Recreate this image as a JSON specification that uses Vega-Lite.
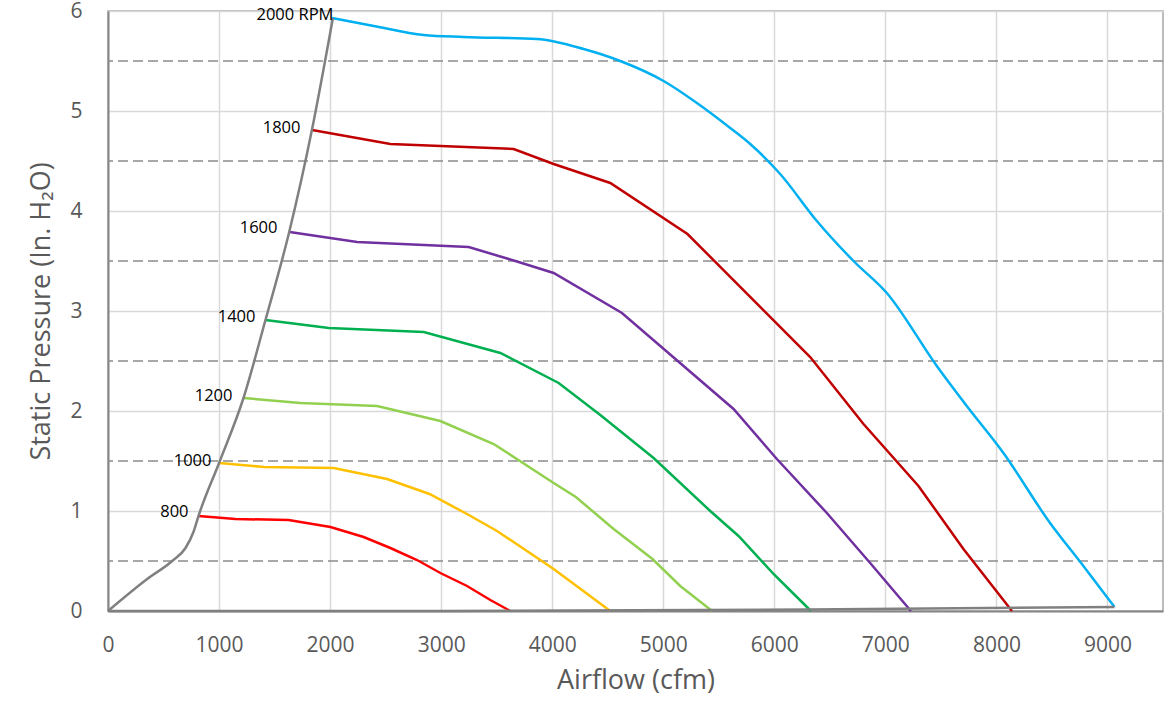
{
  "$schema": "https://vega.github.io/schema/vega-lite/v6.json",
  "width": 1055,
  "height": 600,
  "autosize": {"type": "none"},
  "padding": {"left": 108, "top": 11, "right": 4, "bottom": 93},
  "background": "white",
  "config": {
    "view": {"stroke": "#A6A6A6", "strokeWidth": 1.5},
    "axis": {
      "labelFont": "Open Sans", "labelFontSize": 21, "labelColor": "#595959",
      "titleFont": "Open Sans", "titleFontSize": 27, "titleColor": "#595959", "titleFontWeight": "normal",
      "ticks": false, "gridColor": "#D9D9D9", "gridWidth": 1.5,
      "domainColor": "#868686", "domainWidth": 2, "labelFlush": false, "labelOverlap": false
    },
    "axisX": {"labelPadding": 23, "titlePadding": 12},
    "axisY": {"labelPadding": 26, "titlePadding": 14}
  },
  "datasets": {
    "dash": [{"y": 0.5}, {"y": 1.5}, {"y": 2.5}, {"y": 3.5}, {"y": 4.5}, {"y": 5.5}],
    "curves": [
      {"rpm": "800", "x": 815, "y": 0.95}, {"rpm": "800", "x": 1148, "y": 0.92}, {"rpm": "800", "x": 1627, "y": 0.91},
      {"rpm": "800", "x": 2003, "y": 0.84}, {"rpm": "800", "x": 2302, "y": 0.74}, {"rpm": "800", "x": 2543, "y": 0.63},
      {"rpm": "800", "x": 2783, "y": 0.51}, {"rpm": "800", "x": 2993, "y": 0.38}, {"rpm": "800", "x": 3233, "y": 0.25},
      {"rpm": "800", "x": 3443, "y": 0.11}, {"rpm": "800", "x": 3623, "y": 0.0},
      {"rpm": "1000", "x": 1000, "y": 1.48}, {"rpm": "1000", "x": 1403, "y": 1.44}, {"rpm": "1000", "x": 2032, "y": 1.43},
      {"rpm": "1000", "x": 2513, "y": 1.32}, {"rpm": "1000", "x": 2895, "y": 1.17}, {"rpm": "1000", "x": 3233, "y": 0.97},
      {"rpm": "1000", "x": 3503, "y": 0.8}, {"rpm": "1000", "x": 4013, "y": 0.42}, {"rpm": "1000", "x": 4523, "y": 0.0},
      {"rpm": "1200", "x": 1220, "y": 2.13}, {"rpm": "1200", "x": 1733, "y": 2.08}, {"rpm": "1200", "x": 2423, "y": 2.05},
      {"rpm": "1200", "x": 2993, "y": 1.9}, {"rpm": "1200", "x": 3473, "y": 1.67}, {"rpm": "1200", "x": 4013, "y": 1.28},
      {"rpm": "1200", "x": 4213, "y": 1.14}, {"rpm": "1200", "x": 4553, "y": 0.82}, {"rpm": "1200", "x": 4903, "y": 0.52},
      {"rpm": "1200", "x": 5153, "y": 0.25}, {"rpm": "1200", "x": 5440, "y": 0.0},
      {"rpm": "1400", "x": 1418, "y": 2.91}, {"rpm": "1400", "x": 1988, "y": 2.83}, {"rpm": "1400", "x": 2843, "y": 2.79},
      {"rpm": "1400", "x": 3533, "y": 2.58}, {"rpm": "1400", "x": 4058, "y": 2.28}, {"rpm": "1400", "x": 4433, "y": 1.96},
      {"rpm": "1400", "x": 4913, "y": 1.53}, {"rpm": "1400", "x": 5423, "y": 1.0}, {"rpm": "1400", "x": 5678, "y": 0.75},
      {"rpm": "1400", "x": 5993, "y": 0.37}, {"rpm": "1400", "x": 6330, "y": 0.0},
      {"rpm": "1600", "x": 1636, "y": 3.79}, {"rpm": "1600", "x": 2243, "y": 3.69}, {"rpm": "1600", "x": 3248, "y": 3.64},
      {"rpm": "1600", "x": 3668, "y": 3.5}, {"rpm": "1600", "x": 4013, "y": 3.38}, {"rpm": "1600", "x": 4628, "y": 2.98},
      {"rpm": "1600", "x": 5633, "y": 2.02}, {"rpm": "1600", "x": 6023, "y": 1.52}, {"rpm": "1600", "x": 6473, "y": 0.98},
      {"rpm": "1600", "x": 6863, "y": 0.48}, {"rpm": "1600", "x": 7230, "y": 0.0},
      {"rpm": "1800", "x": 1838, "y": 4.81}, {"rpm": "1800", "x": 2543, "y": 4.67}, {"rpm": "1800", "x": 3653, "y": 4.62},
      {"rpm": "1800", "x": 4013, "y": 4.47}, {"rpm": "1800", "x": 4523, "y": 4.28}, {"rpm": "1800", "x": 5218, "y": 3.77},
      {"rpm": "1800", "x": 6323, "y": 2.54}, {"rpm": "1800", "x": 6803, "y": 1.87}, {"rpm": "1800", "x": 7298, "y": 1.25},
      {"rpm": "1800", "x": 7703, "y": 0.62}, {"rpm": "1800", "x": 8140, "y": 0.0},
      {"rpm": "2000", "x": 2018, "y": 5.93}, {"rpm": "2000", "x": 2393, "y": 5.85}, {"rpm": "2000", "x": 2843, "y": 5.76},
      {"rpm": "2000", "x": 3203, "y": 5.74}, {"rpm": "2000", "x": 3863, "y": 5.72}, {"rpm": "2000", "x": 4283, "y": 5.62},
      {"rpm": "2000", "x": 4613, "y": 5.5}, {"rpm": "2000", "x": 5003, "y": 5.3}, {"rpm": "2000", "x": 5303, "y": 5.08},
      {"rpm": "2000", "x": 5603, "y": 4.83}, {"rpm": "2000", "x": 5783, "y": 4.67}, {"rpm": "2000", "x": 6053, "y": 4.37},
      {"rpm": "2000", "x": 6383, "y": 3.9}, {"rpm": "2000", "x": 6713, "y": 3.5}, {"rpm": "2000", "x": 7013, "y": 3.18},
      {"rpm": "2000", "x": 7463, "y": 2.45}, {"rpm": "2000", "x": 7733, "y": 2.05},
      {"rpm": "2000", "x": 8063, "y": 1.58}, {"rpm": "2000", "x": 8483, "y": 0.88}, {"rpm": "2000", "x": 8783, "y": 0.45},
      {"rpm": "2000", "x": 9063, "y": 0.04}
    ],
    "gray": [
      {"line": "envelope", "x": 0, "y": 0}, {"line": "envelope", "x": 353, "y": 0.32}, {"line": "envelope", "x": 578, "y": 0.5},
      {"line": "envelope", "x": 698, "y": 0.63}, {"line": "envelope", "x": 773, "y": 0.8}, {"line": "envelope", "x": 815, "y": 0.95},
      {"line": "envelope", "x": 1000, "y": 1.48}, {"line": "envelope", "x": 1220, "y": 2.13}, {"line": "envelope", "x": 1418, "y": 2.91},
      {"line": "envelope", "x": 1634, "y": 3.8}, {"line": "envelope", "x": 1836, "y": 4.81}, {"line": "envelope", "x": 2025, "y": 5.93},
      {"line": "bottom", "x": 0, "y": 0}, {"line": "bottom", "x": 3000, "y": 0}, {"line": "bottom", "x": 6300, "y": 0.015},
      {"line": "bottom", "x": 9063, "y": 0.04}
    ],
    "labels": [
      {"label": "800", "x": 725, "y": 0.99},
      {"label": "1000", "x": 932, "y": 1.5},
      {"label": "1200", "x": 1121, "y": 2.15},
      {"label": "1400", "x": 1328, "y": 2.94},
      {"label": "1600", "x": 1526, "y": 3.83},
      {"label": "1800", "x": 1733, "y": 4.83},
      {"label": "2000 RPM", "x": 2030, "y": 5.96}
    ]
  },
  "layer": [
    {
      "data": {"name": "dash"},
      "mark": {"type": "rule", "strokeDash": [10, 5], "color": "#8C8C8C", "strokeWidth": 1.5},
      "encoding": {
        "y": {"field": "y", "type": "quantitative", "scale": {"domain": [0, 6], "nice": false},
              "axis": {"values": [0, 1, 2, 3, 4, 5, 6], "format": "d", "title": "Static Pressure (In. H₂O)"}}
      }
    },
    {
      "data": {"name": "curves"},
      "transform": [{"filter": "datum.rpm != '2000'"}],
      "mark": {"type": "line", "strokeWidth": 2.5, "interpolate": "linear"},
      "encoding": {
        "x": {"field": "x", "type": "quantitative", "scale": {"domain": [0, 9500], "nice": false},
              "axis": {"values": [0, 1000, 2000, 3000, 4000, 5000, 6000, 7000, 8000, 9000], "format": "d", "title": "Airflow (cfm)"}},
        "y": {"field": "y", "type": "quantitative", "scale": {"domain": [0, 6], "nice": false},
              "axis": {"values": [0, 1, 2, 3, 4, 5, 6], "format": "d", "title": "Static Pressure (In. H₂O)"}},
        "color": {"field": "rpm", "type": "nominal", "legend": null,
                  "scale": {"domain": ["800", "1000", "1200", "1400", "1600", "1800", "2000"],
                            "range": ["#FF0000", "#FFC000", "#92D050", "#00B050", "#7030A0", "#C00000", "#00B0F0"]}},
        "order": {"field": "x", "type": "quantitative"}
      }
    },
    {
      "data": {"name": "curves"},
      "transform": [{"filter": "datum.rpm == '2000'"}],
      "mark": {"type": "line", "strokeWidth": 2.5, "interpolate": "monotone"},
      "encoding": {
        "x": {"field": "x", "type": "quantitative"},
        "y": {"field": "y", "type": "quantitative"},
        "color": {"field": "rpm", "type": "nominal", "legend": null},
        "order": {"field": "x", "type": "quantitative"}
      }
    },
    {
      "data": {"name": "gray"},
      "mark": {"type": "line", "strokeWidth": 2.5, "color": "#808080", "interpolate": "monotone"},
      "encoding": {
        "x": {"field": "x", "type": "quantitative"},
        "y": {"field": "y", "type": "quantitative"},
        "detail": {"field": "line", "type": "nominal"},
        "order": {"field": "x", "type": "quantitative"}
      }
    },
    {
      "data": {"name": "labels"},
      "mark": {"type": "text", "align": "right", "baseline": "middle", "font": "Open Sans", "fontSize": 16.5, "color": "#000000"},
      "encoding": {
        "x": {"field": "x", "type": "quantitative"},
        "y": {"field": "y", "type": "quantitative"},
        "text": {"field": "label", "type": "nominal"}
      }
    }
  ]
}
